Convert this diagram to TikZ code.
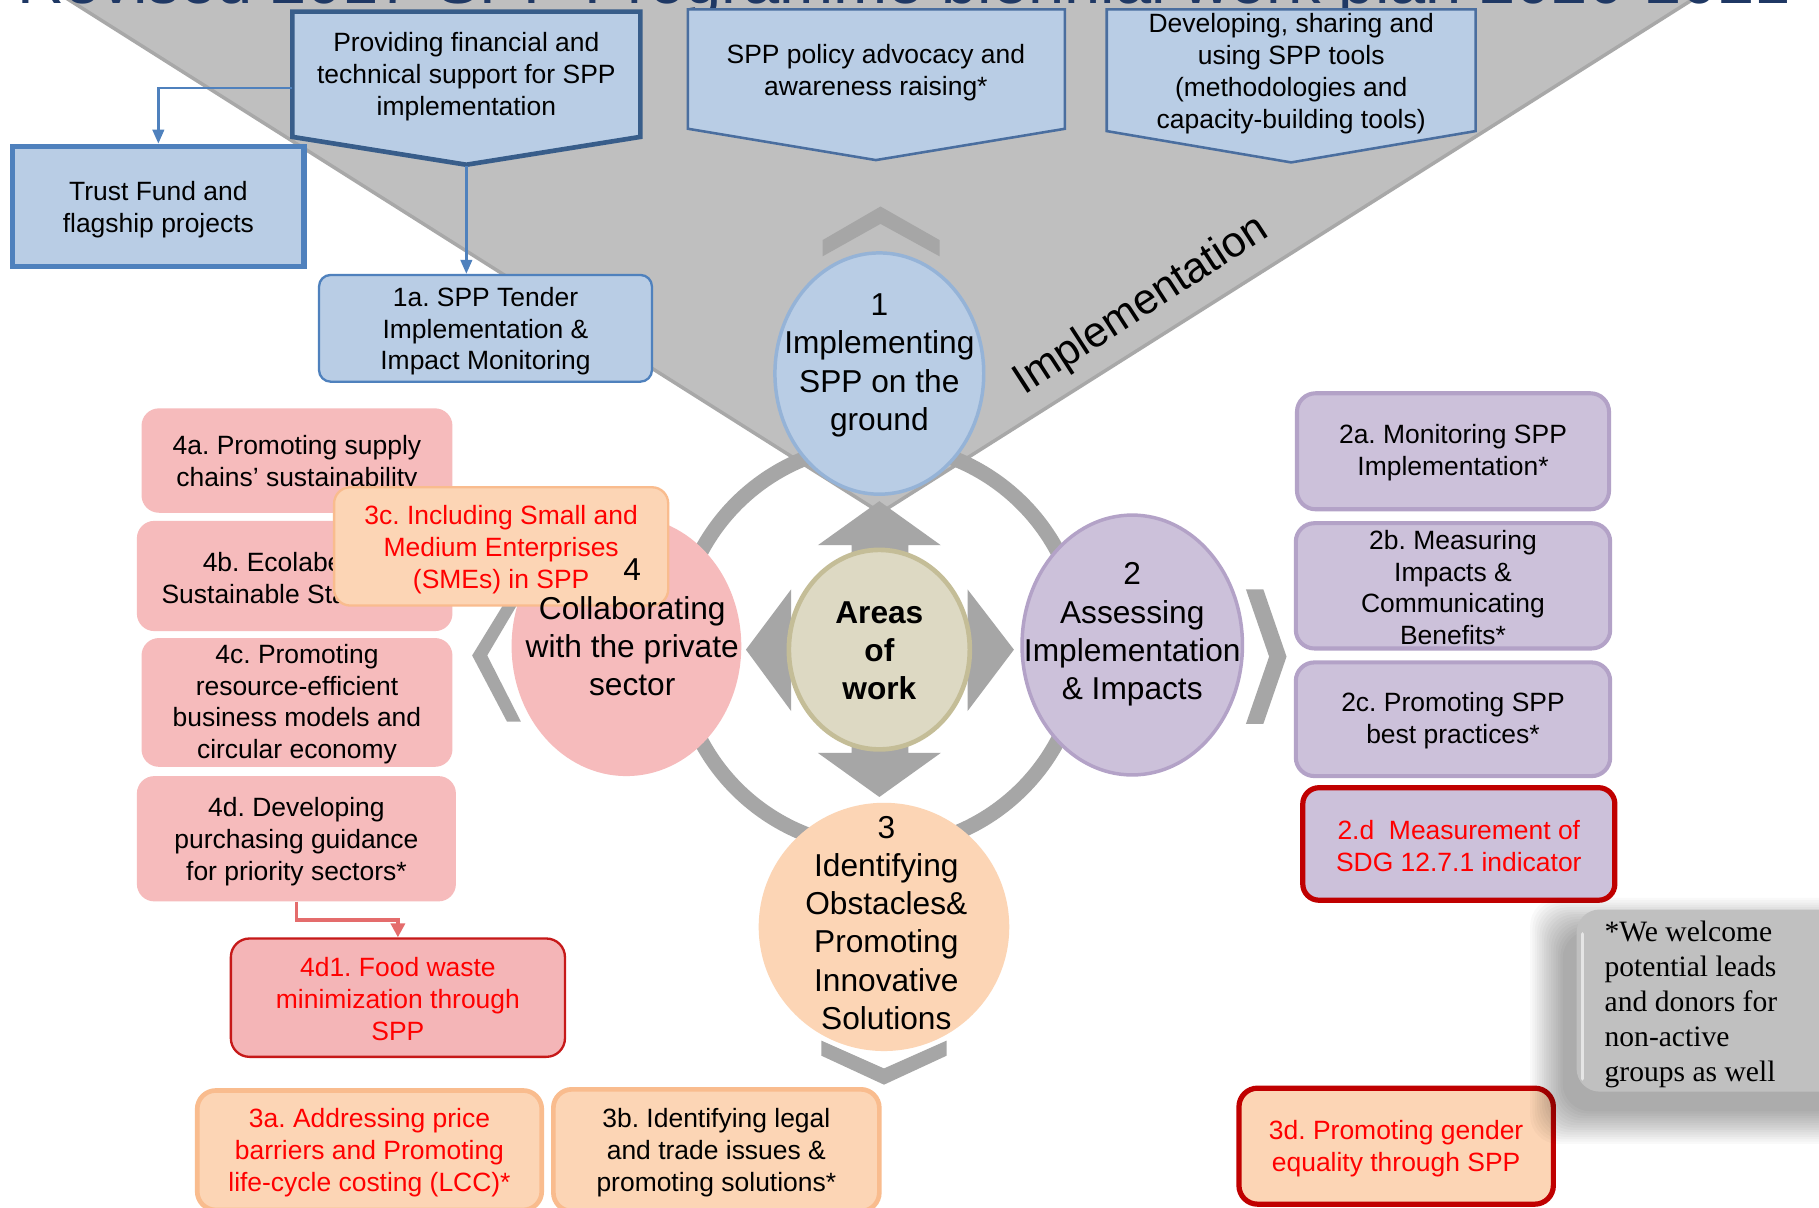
\documentclass[tikz,border=0pt]{standalone}
\usepackage{fontspec}
\setmainfont{Liberation Sans}
\newfontfamily\notefamily{Liberation Serif}
\usetikzlibrary{shapes.geometric,fit,arrows.meta}
\definecolor{vgray}{HTML}{BFBFBF}
\definecolor{dgray}{HTML}{A6A6A6}
\definecolor{edgegray}{HTML}{A8A8A8}
\definecolor{bluef}{HTML}{B9CDE5}
\definecolor{blued}{HTML}{4F81BD}
\definecolor{bluedk}{HTML}{385D8A}
\definecolor{bluemid}{HTML}{4A6E9F}
\definecolor{bluec}{HTML}{95B3D7}
\definecolor{purf}{HTML}{CCC1DA}
\definecolor{purd}{HTML}{B3A2C7}
\definecolor{pinkf}{HTML}{F6BBBC}
\definecolor{pinkd}{HTML}{F4B5B7}
\definecolor{peachf}{HTML}{FCD5B5}
\definecolor{peachd}{HTML}{F9BC8E}
\definecolor{redd}{HTML}{C00000}
\definecolor{redt}{HTML}{FF0000}
\definecolor{salmon}{HTML}{E46C6C}
\definecolor{beigef}{HTML}{DDD9C3}
\definecolor{beiged}{HTML}{C4BD97}
\definecolor{navy}{HTML}{1F3864}
\definecolor{notegray}{HTML}{C0C0C0}
\newcommand\bxfont{\fontsize{22.8}{27.5}\selectfont}
\newcommand\crfont{\fontsize{27.3}{33}\selectfont}
\newcommand\ntfont{\notefamily\fontsize{25.5}{30.2}\selectfont}
\frenchspacing
\begin{document}
\begin{tikzpicture}[x=1pt,y=-1pt,
  bx/.style={inner sep=0pt, align=center, font=\bxfont},
  shp/.style={inner sep=0pt},
  topbox/.style={fill=bluef, draw=bluemid, line width=2.2pt, line join=miter},
  bluebox/.style={shp, fill=bluef, draw=blued},
  pinkbox/.style={shp, fill=pinkf, rounded corners=15pt},
  purbox/.style={shp, fill=purf, draw=purd, line width=3.5pt, rounded corners=16pt},
  peachbox/.style={shp, fill=peachf, draw=peachd, line width=4pt, rounded corners=16pt},
  redframe/.style={draw=redd, line width=4.5pt},
  circ/.style={ellipse, inner sep=0pt},
  crtext/.style={align=center, font=\crfont, inner sep=0pt},
  blueconn/.style={draw=blued, line width=2pt, -{Triangle[width=10pt,length=12pt]}},
  redconn/.style={draw=salmon, line width=3pt, -{Triangle[width=12pt,length=12pt]}},
  chev/.style={fill=dgray}
]
\path[use as bounding box] (0,0) rectangle (1568,1041);
\clip (0,0) rectangle (1568,1041);
\fill[white] (0,0) rectangle (1568,1041);

% funnel
\filldraw[fill=vgray, draw=edgegray, line width=3pt] (28,-20) -- (1490,-20) -- (759,442) -- cycle;

% title (cut off at top)
\node[anchor=base west, inner sep=0pt, text=navy, font=\fontsize{56}{60}\selectfont] (title) at (15,3)
  {Revised 2017-SPP Programme biennial work plan 2020-2021};

% ring
\draw[dgray, line width=13pt] (758,557) circle[radius=174];

% chevrons
\fill[chev] (709,207) -- (759,178) -- (810,207) -- (810,221) -- (759,193) -- (709,221) -- cycle;
\fill[chev] (708,897) -- (762,921) -- (816,897) -- (816,910) -- (762,935) -- (708,910) -- cycle;
\fill[chev] (434,521) -- (446,521) -- (420,565) -- (449,622) -- (437,622) -- (407,565) -- cycle;
\fill[chev] (1074,508) -- (1089,508) -- (1109,566) -- (1089,624) -- (1074,624) -- (1094,566) -- cycle;

% top boxes
\path[topbox, draw=bluedk, line width=4pt] (252,10) -- (552,10) -- (552,118) -- (402,142) -- (252,118) -- cycle;
\node[bx] (boxA) at (402,66) {Providing financial and\\technical support for SPP\\implementation};
\path[topbox] (593,8) -- (918,8) -- (918,111) -- (755,138) -- (593,111) -- cycle;
\node[bx] (boxB) at (755,63) {SPP policy advocacy and\\awareness raising*};
\path[topbox] (954,8) -- (1272,8) -- (1272,113) -- (1113,140) -- (954,113) -- cycle;
\node[bx] (boxC) at (1113,63.5) {Developing, sharing and\\using SPP tools\\(methodologies and\\capacity-building tools)};
\coordinate (boxAleft) at (252,76);
\coordinate (boxAtip) at (402,143);

% trust fund and 1a
\node[bluebox, line width=4.5pt, fit={(11,126) (262,230)}] (trust) {};
\node[bx] (trustt) at ([yshift=-2.5pt]trust.center) {Trust Fund and\\flagship projects};
\node[bluebox, line width=2pt, rounded corners=10pt, fit={(275,237) (562,329)}] (t1a) {};
\node[bx] (t1at) at ([yshift=-2.5pt]t1a.center) {1a. SPP Tender\\Implementation \&\\Impact Monitoring};
\draw[blueconn] (boxAleft) -| (trust.north);
\draw[blueconn] (boxAtip) -- (boxAtip |- t1a.north);

% Implementation label
\node[rotate=33, anchor=base, inner sep=0pt, font=\fontsize{37}{40}\selectfont] (impl) at (989,272) {Implementation};

% circle 1
\node[circ, minimum width=180pt, minimum height=208pt, fill=bluef, draw=bluec, line width=3pt] (c1) at (758,322) {};
\node[crtext] (c1t) at (758,315) {1\\Implementing\\SPP on the\\ground};

% central arrows
\fill[dgray] (705,470) -- (758,432) -- (811,470) -- (783,470) -- (783,486) -- (734,486) -- (734,470) -- cycle;
\fill[dgray] (705,649) -- (758,687) -- (811,649) -- (783,649) -- (783,634) -- (734,634) -- (734,649) -- cycle;
\fill[dgray] (682,508) -- (643,560) -- (682,613) -- (682,585) -- (697,585) -- (697,535) -- (682,535) -- cycle;
\fill[dgray] (834,508) -- (874,560) -- (834,613) -- (834,585) -- (819,585) -- (819,535) -- (834,535) -- cycle;
\node[circ, minimum width=156pt, minimum height=172pt, fill=beigef, draw=beiged, line width=4pt] (ctr) at (758,560) {};
\node[crtext, font=\crfont\bfseries] (ctrt) at (758,561) {Areas\\of\\work};

% circle 2 and 3
\node[circ, minimum width=190pt, minimum height=224pt, fill=purf, draw=purd, line width=3pt] (c2) at (976,556) {};
\node[crtext] (c2t) at (976,547) {2\\Assessing\\Implementation\\\& Impacts};
\node[circ, minimum width=216pt, minimum height=214pt, fill=peachf] (c3) at (762,799) {};
\node[crtext] (c3t) at (764,795.5) {3\\Identifying\\Obstacles\&\\Promoting\\Innovative\\Solutions};

% circle 4
\node[circ, minimum width=198pt, minimum height=224pt, fill=pinkf] (c4) at (540,557) {};

% left boxes
\node[pinkbox, fit={(122,352) (390,442)}] (n4a) {};
\node[bx] (n4at) at ([yshift=-2.5pt]n4a.center) {4a. Promoting supply\\chains' sustainability};
\node[pinkbox, fit={(118,449) (390,544)}] (n4b) {};
\node[bx] (n4bt) at ([yshift=-1.5pt]n4b.center) {4b. Ecolabels \&\\Sustainable Standards};
\node[pinkbox, fit={(122,550) (390,661)}] (n4c) {};
\node[bx] (n4ct) at ([yshift=-1.5pt]n4c.center) {4c. Promoting\\resource-efficient\\business models and\\circular economy};
\node[pinkbox, fit={(118,669) (393,777)}] (n4d) {};
\node[bx] (n4dt) at ([yshift=-2.5pt]n4d.center) {4d. Developing\\purchasing guidance\\for priority sectors*};
\node[pinkbox, fill=pinkd, draw=redd!90, line width=2pt, rounded corners=16pt, fit={(199,809) (487,911)}] (n4d1) {};
\node[bx, text=redt] (n4d1t) at ([yshift=-1.5pt]n4d1.center) {4d1. Food waste\\minimization through\\SPP};
\draw[redconn] (n4d.south) -- ++(0,16) -| (n4d1.north);

% 3c box
\node[peachbox, line width=2pt, rounded corners=14pt, fit={(288,420) (576,522)}] (n3c) {};
\node[bx, text=redt] (n3ct) at ([yshift=-2.5pt]n3c.center) {3c. Including Small and\\Medium Enterprises\\(SMEs) in SPP};

% circle 4 text
\node[crtext] (c4t) at (545,541) {4\\Collaborating\\with the private\\sector};

% right boxes
\node[purbox, fit={(1118,339) (1387,439)}] (n2a) {};
\node[bx] (n2at) at ([yshift=-1.5pt]n2a.center) {2a. Monitoring SPP\\Implementation*};
\node[purbox, fit={(1117,451) (1388,559)}] (n2b) {};
\node[bx] (n2bt) at ([yshift=-1.5pt]n2b.center) {2b. Measuring\\Impacts \&\\Communicating\\Benefits*};
\node[purbox, fit={(1117,571) (1388,669)}] (n2c) {};
\node[bx] (n2ct) at ([yshift=-1.5pt]n2c.center) {2c. Promoting SPP\\best practices*};
\node[purbox, redframe, rounded corners=14pt, fit={(1123,679) (1392,776)}] (n2d) {};
\node[bx, text=redt] (n2dt) at ([yshift=-1.5pt]n2d.center) {2.d~~Measurement of\\SDG 12.7.1 indicator};

% bottom boxes
\node[peachbox, fit={(170,940) (467,1043)}] (n3a) {};
\node[bx, text=redt] (n3at) at ([yshift=-2pt]n3a.center) {3a. Addressing price\\barriers and Promoting\\life-cycle costing (LCC)*};
\node[peachbox, fit={(477,939) (758,1044)}] (n3b) {};
\node[bx] (n3bt) at ([yshift=-2pt]n3b.center) {3b. Identifying legal\\and trade issues \&\\promoting solutions*};
\node[peachbox, redframe, fit={(1068,938) (1339,1038)}] (n3d) {};
\node[bx, text=redt] (n3dt) at ([yshift=-2.5pt]n3d.center) {3d. Promoting gender\\equality through SPP};

% note with shadow
\foreach \i in {0,...,14} {
  \fill[black, opacity=0.024, rounded corners=24pt]
    ({1347-2*\i},{802-2*\i}) rectangle ({1590+2*\i},{958+2*\i});
}
\node[fill=notegray, rounded corners=20pt, inner sep=0pt, fit={(1359,784) (1600,941)}] (notebox) {};
\draw[white, opacity=0.6, line width=3pt, line cap=round] (1364,805) -- (1364,930);
\node[anchor=west, align=left, inner sep=0pt, font=\ntfont] (notet) at (1383,866)
  {*We welcome\\potential leads\\and donors for\\non-active\\groups as well};
\end{tikzpicture}
\end{document}
